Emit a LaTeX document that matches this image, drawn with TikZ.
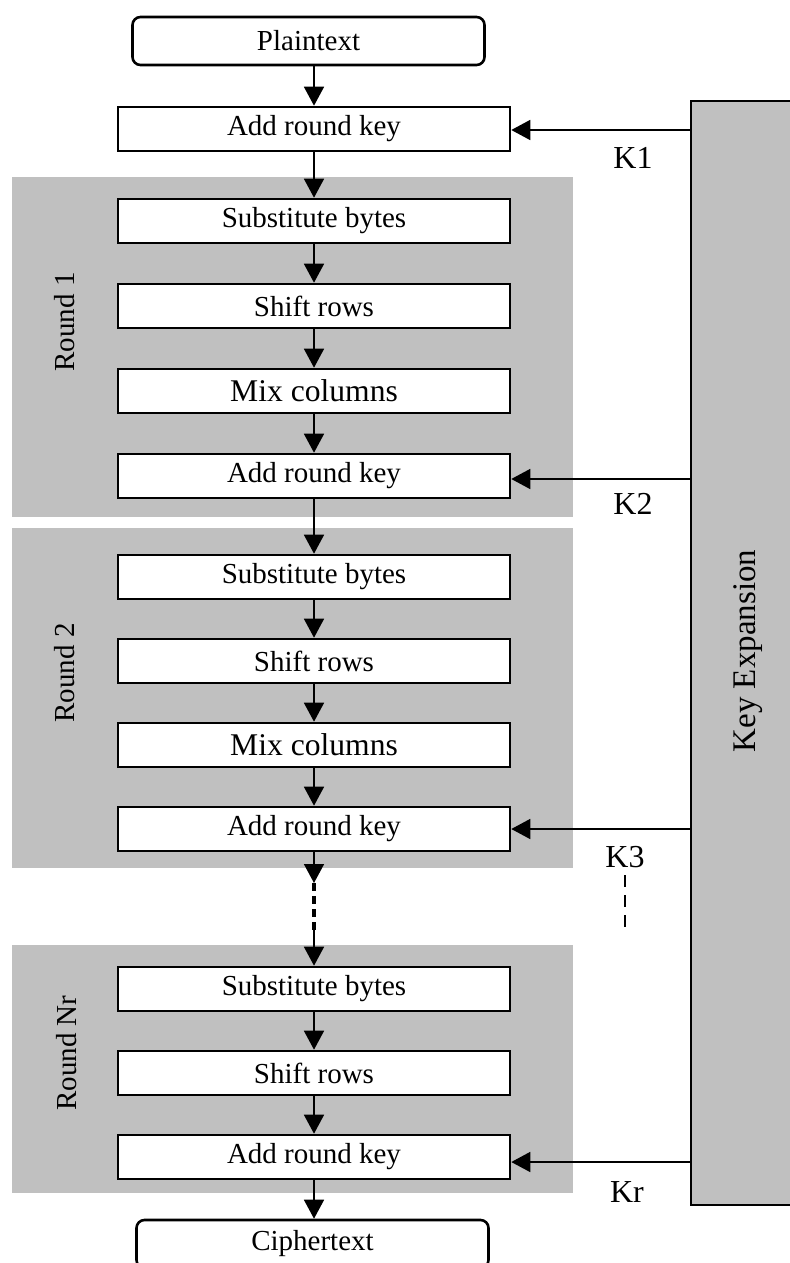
\documentclass[tikz,border=0pt]{standalone}
\usepackage{fontspec}
\setmainfont{Liberation Serif}
\usetikzlibrary{arrows.meta}
\definecolor{roundgray}{RGB}{192,192,192}

\tikzset{
    stage/.style={draw, line width=1.3pt, fill=white, inner sep=0pt,
        minimum width=196pt, minimum height=22pt, font=\fontsize{14.5}{17}\selectfont},
    mixstage/.style={stage, font=\fontsize{15.8}{18}\selectfont},
    io/.style={stage, rounded corners=4pt, minimum width=176pt, minimum height=24pt},
    arr/.style={line width=0.8pt, -{Triangle[length=9.5pt,width=10pt]}},
    roundbg/.style={fill=roundgray},
    roundlbl/.style={rotate=90, inner sep=0pt, font=\fontsize{14.5}{17}\selectfont},
    keylbl/.style={inner sep=0pt, font=\fontsize{16}{19}\selectfont},
    keybox/.style={draw, line width=1.2pt, fill=roundgray, minimum width=55pt, minimum height=552pt},
}

\begin{document}
\begin{tikzpicture}[x=0.5pt, y=-0.5pt]
        \useasboundingbox (0,0) rectangle (790,1263);
        % round backgrounds
        \fill[roundbg] (12,177) rectangle (573,517);
        \fill[roundbg] (12,528) rectangle (573,868);
        \fill[roundbg] (12,945) rectangle (573,1193);
        \node[roundlbl] (r1) at (65,322)  {Round 1};
        \node[roundlbl] (r2) at (65,673)  {Round 2};
        \node[roundlbl] (rn) at (67,1053) {Round Nr};

        % key expansion
        \node[keybox] (kx) at (746,653) {};
        \node[roundlbl, font=\fontsize{16.5}{19}\selectfont] (kxl) at (748,651) {Key Expansion};

        % stages
        \node[io]    (pt) at (308.5,41) {Plaintext};
        \node[stage] (a0) at (314,129)  {Add round key};

        \node[stage]    (s1) at (314,221)  {Substitute bytes};
        \node[stage]    (h1) at (314,306)  {Shift rows};
        \node[mixstage] (m1) at (314,391)  {Mix columns};
        \node[stage]    (a1) at (314,476)  {Add round key};

        \node[stage]    (s2) at (314,577)  {Substitute bytes};
        \node[stage]    (h2) at (314,661)  {Shift rows};
        \node[mixstage] (m2) at (314,745)  {Mix columns};
        \node[stage]    (a2) at (314,829)  {Add round key};

        \node[stage] (s3) at (314,989)  {Substitute bytes};
        \node[stage] (h3) at (314,1073) {Shift rows};
        \node[stage] (a3) at (314,1157) {Add round key};

        \node[io]    (ct) at (312.5,1244) {Ciphertext};

        % data path
        \draw[arr] (pt.south -| a0.north) -- (a0.north);
        \draw[arr] (a0) -- (s1);
        \draw[arr] (s1) -- (h1);
        \draw[arr] (h1) -- (m1);
        \draw[arr] (m1) -- (a1);
        \draw[arr] (a1) -- (s2);
        \draw[arr] (s2) -- (h2);
        \draw[arr] (h2) -- (m2);
        \draw[arr] (m2) -- (a2);
        \coordinate (d1) at (314,883);
        \coordinate (d2) at (314,930);
        \draw[arr] (a2.south) -- (d1);
        \draw[line width=1.7pt, dash pattern=on 4pt off 2.5pt] (d1) -- (d2);
        \draw[arr] (d2) -- (s3.north);
        \draw[arr] (s3) -- (h3);
        \draw[arr] (h3) -- (a3);
        \draw[arr] (a3.south) -- (a3.south |- ct.north);

        % round keys
        \draw[arr] (kx.west |- 0,130)  -- (a0.east |- 0,130);
        \draw[arr] (kx.west |- 0,479)  -- (a1.east |- 0,479);
        \draw[arr] (kx.west |- 0,829)  -- (a2.east |- 0,829);
        \draw[arr] (kx.west |- 0,1162) -- (a3.east |- 0,1162);
        \node[keylbl] (k1) at (633,158)  {K1};
        \node[keylbl] (k2) at (633,504)  {K2};
        \node[keylbl] (k3) at (625,857)  {K3};
        \node[keylbl] (kr) at (627,1192) {Kr};
        \coordinate (kd1) at (625,875);
        \coordinate (kd2) at (625,932);
        \draw[line width=1.1pt, dash pattern=on 6pt off 4pt] (kd1) -- (kd2);
\end{tikzpicture}
\end{document}
